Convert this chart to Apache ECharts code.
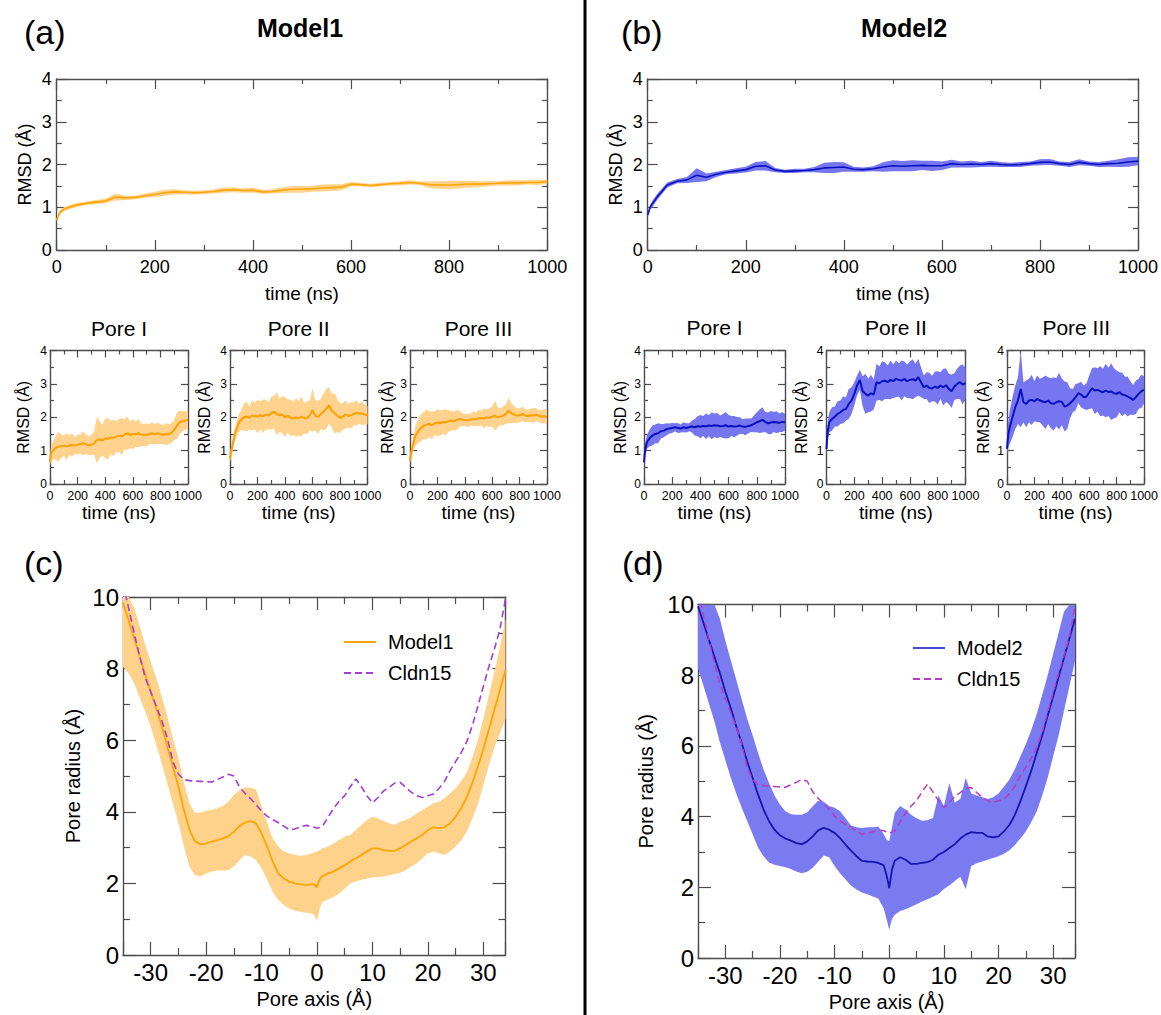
<!DOCTYPE html>
<html><head><meta charset="utf-8">
<script src="https://cdn.jsdelivr.net/npm/echarts@6/dist/echarts.min.js"></script>
<style>html,body{margin:0;padding:0;background:#fff}#c{width:1161px;height:1015px}</style>
</head><body><div id="c"></div>
<script>
// ---------------- DATA ----------------
const T = [0,5,10,20,40,60,80,100,120,140,160,180,200,220,240,260,280,300,320,340,360,380,400,420,440,460,480,500,520,540,560,580,600,620,640,660,680,700,720,740,760,780,800,820,840,860,880,900,920,940,960,980,1000];

// Model1 whole protein RMSD
const m1Mean = [0.70,0.85,0.92,0.98,1.05,1.09,1.12,1.15,1.24,1.22,1.23,1.27,1.30,1.34,1.36,1.35,1.34,1.35,1.37,1.40,1.41,1.39,1.40,1.36,1.37,1.40,1.42,1.42,1.43,1.45,1.46,1.47,1.54,1.53,1.51,1.53,1.55,1.56,1.58,1.56,1.53,1.52,1.52,1.53,1.54,1.54,1.55,1.56,1.57,1.57,1.58,1.58,1.60];
const m1Sd = [0.04,0.05,0.05,0.05,0.05,0.04,0.05,0.05,0.08,0.05,0.04,0.05,0.06,0.07,0.06,0.05,0.05,0.04,0.05,0.06,0.06,0.05,0.06,0.05,0.05,0.07,0.08,0.08,0.07,0.08,0.08,0.07,0.05,0.04,0.04,0.04,0.04,0.05,0.05,0.04,0.08,0.09,0.10,0.09,0.08,0.07,0.06,0.05,0.06,0.06,0.05,0.06,0.05];
// Model2 whole protein RMSD
const m2Mean = [0.82,1.0,1.09,1.25,1.52,1.61,1.64,1.75,1.70,1.77,1.82,1.85,1.88,1.96,1.97,1.87,1.84,1.85,1.86,1.88,1.92,1.93,1.94,1.89,1.88,1.90,1.94,1.97,1.96,1.97,1.98,1.97,1.97,2.02,2.00,2.01,2.00,2.02,2.00,1.99,2.00,2.02,2.05,2.06,2.02,2.00,2.05,2.02,2.00,2.02,2.03,2.06,2.08];
const m2Sd = [0.05,0.06,0.07,0.07,0.06,0.05,0.07,0.16,0.09,0.06,0.05,0.06,0.07,0.1,0.11,0.05,0.04,0.05,0.04,0.06,0.12,0.13,0.11,0.06,0.05,0.06,0.11,0.13,0.12,0.13,0.11,0.12,0.1,0.09,0.07,0.08,0.06,0.07,0.06,0.05,0.06,0.05,0.07,0.07,0.05,0.06,0.07,0.05,0.06,0.07,0.09,0.11,0.1];

// Model1 pores
const m1P1Mean = [0.65,0.85,0.95,1.0,1.08,1.12,1.13,1.15,1.12,1.16,1.17,1.15,1.18,1.2,1.22,1.19,1.15,1.18,1.22,1.32,1.34,1.30,1.37,1.35,1.40,1.38,1.42,1.45,1.43,1.48,1.52,1.47,1.50,1.49,1.52,1.48,1.46,1.47,1.50,1.52,1.48,1.52,1.50,1.47,1.50,1.49,1.53,1.62,1.75,1.85,1.88,1.90,1.93];
const m1P1Sd = [0.1,0.2,0.25,0.25,0.35,0.45,0.35,0.3,0.4,0.3,0.35,0.25,0.3,0.28,0.35,0.3,0.28,0.3,0.35,0.7,0.55,0.45,0.6,0.62,0.5,0.55,0.45,0.5,0.55,0.45,0.5,0.4,0.45,0.38,0.42,0.35,0.32,0.35,0.3,0.33,0.3,0.32,0.3,0.28,0.33,0.3,0.3,0.3,0.4,0.35,0.3,0.28,0.25];
const m1P2Mean = [0.75,0.9,1.0,1.2,1.55,1.8,1.92,2.0,2.02,1.98,2.05,2.04,2.02,2.06,2.03,2.08,2.05,2.12,2.16,2.1,2.06,2.08,2.0,2.04,1.98,1.96,2.0,1.97,2.02,1.97,1.98,2.05,2.22,2.05,2.0,2.1,2.16,2.25,2.36,2.2,2.12,2.05,1.98,2.02,2.08,2.04,2.06,2.1,2.14,2.1,2.12,2.08,2.06];
const m1P2Sd = [0.1,0.15,0.15,0.2,0.2,0.25,0.3,0.4,0.45,0.35,0.45,0.4,0.5,0.42,0.5,0.45,0.4,0.5,0.48,0.65,0.5,0.55,0.6,0.5,0.55,0.5,0.58,0.52,0.6,0.45,0.5,0.45,0.65,0.45,0.5,0.45,0.55,0.6,0.55,0.5,0.6,0.5,0.45,0.4,0.42,0.35,0.4,0.35,0.38,0.3,0.35,0.3,0.28];
const m1P3Mean = [0.7,0.85,0.95,1.15,1.45,1.58,1.68,1.75,1.78,1.8,1.76,1.82,1.84,1.82,1.86,1.85,1.88,1.9,1.88,1.92,1.95,1.93,1.92,1.9,1.93,1.95,1.94,1.97,1.98,1.96,2.0,1.98,2.02,2.05,2.0,2.02,2.05,2.1,2.2,2.12,2.08,2.05,2.06,2.1,2.05,2.04,2.06,2.05,2.08,2.04,2.02,2.03,2.01];
const m1P3Sd = [0.08,0.12,0.15,0.2,0.3,0.35,0.4,0.4,0.45,0.38,0.42,0.35,0.4,0.38,0.35,0.4,0.32,0.3,0.28,0.3,0.25,0.2,0.18,0.2,0.18,0.22,0.2,0.25,0.22,0.3,0.25,0.28,0.3,0.45,0.3,0.25,0.28,0.3,0.38,0.3,0.25,0.22,0.2,0.22,0.2,0.18,0.2,0.22,0.2,0.18,0.2,0.22,0.2];

// Model2 pores
const m2P1Mean = [0.65,0.9,1.05,1.25,1.38,1.45,1.5,1.52,1.58,1.6,1.64,1.66,1.68,1.7,1.68,1.66,1.7,1.68,1.7,1.72,1.7,1.73,1.72,1.74,1.73,1.75,1.74,1.76,1.75,1.73,1.74,1.76,1.72,1.74,1.72,1.73,1.75,1.72,1.71,1.74,1.76,1.8,1.85,1.88,1.92,1.86,1.82,1.84,1.86,1.85,1.83,1.86,1.85];
const m2P1Sd = [0.1,0.15,0.2,0.2,0.25,0.3,0.28,0.3,0.22,0.2,0.18,0.15,0.15,0.12,0.15,0.12,0.15,0.14,0.12,0.18,0.25,0.3,0.35,0.3,0.38,0.32,0.4,0.35,0.38,0.32,0.36,0.4,0.35,0.3,0.32,0.28,0.25,0.22,0.25,0.22,0.2,0.25,0.3,0.35,0.38,0.3,0.32,0.35,0.3,0.33,0.28,0.3,0.25];
const m2P2Mean = [1.05,1.4,1.6,1.85,1.95,2.02,2.1,2.15,2.22,2.25,2.4,2.5,2.7,2.95,3.12,2.78,2.7,2.65,2.72,2.68,3.05,3.02,3.08,3.1,3.05,3.12,3.08,3.15,3.12,3.1,3.15,3.08,3.12,3.14,3.1,3.2,3.05,2.9,2.95,2.88,2.86,2.92,2.88,2.95,2.9,2.96,2.85,2.78,2.92,3.0,3.05,2.98,3.02];
const m2P2Sd = [0.15,0.25,0.3,0.3,0.35,0.3,0.38,0.35,0.4,0.35,0.45,0.4,0.35,0.3,0.3,0.45,0.6,0.5,0.55,0.45,0.55,0.5,0.6,0.55,0.5,0.58,0.5,0.55,0.5,0.6,0.52,0.5,0.55,0.6,0.5,0.55,0.45,0.35,0.4,0.45,0.38,0.45,0.5,0.4,0.55,0.5,0.45,0.5,0.4,0.45,0.5,0.6,0.45];
const m2P3Mean = [1.05,1.3,1.5,1.7,2.0,2.3,2.5,2.85,2.45,2.4,2.5,2.52,2.48,2.55,2.5,2.47,2.45,2.5,2.42,2.4,2.45,2.48,2.46,2.32,2.35,2.42,2.5,2.6,2.72,2.68,2.6,2.62,2.75,2.87,2.8,2.82,2.78,2.75,2.8,2.76,2.77,2.72,2.7,2.75,2.68,2.66,2.62,2.58,2.52,2.6,2.7,2.78,2.82];
const m2P3Sd = [0.15,0.3,0.4,0.5,0.6,0.65,0.7,1.15,0.6,0.7,0.65,0.75,0.6,0.7,0.65,0.72,0.8,0.7,0.75,0.8,0.72,0.85,0.7,0.75,0.7,0.45,0.35,0.4,0.3,0.38,0.35,0.4,0.5,0.6,0.7,0.65,0.75,0.7,0.8,0.72,0.85,0.75,0.7,0.6,0.65,0.55,0.6,0.5,0.45,0.5,0.45,0.5,0.4];

// Pore radius profiles
const PX = [-35,-34,-33,-32,-31,-30,-29,-28,-27,-26,-25,-24,-23,-22,-21,-20,-19,-18,-17,-16,-15,-14,-13,-12,-11,-10,-9,-8,-7,-6,-5,-4,-3,-2,-1,-0.5,0,0.5,1,2,3,4,5,6,7,8,9,10,11,12,13,14,15,16,17,18,19,20,21,22,23,24,25,26,27,28,29,30,31,32,33,34];
const m1Radius = [9.85,9.35,8.85,8.35,7.85,7.36,6.89,6.38,5.82,5.26,4.7,4.05,3.49,3.17,3.09,3.12,3.17,3.21,3.26,3.32,3.44,3.6,3.7,3.74,3.68,3.4,3.03,2.61,2.28,2.14,2.05,2.0,1.97,1.96,1.97,1.97,1.9,2.12,2.21,2.28,2.33,2.42,2.51,2.61,2.7,2.79,2.89,2.98,2.98,2.93,2.91,2.91,2.98,3.07,3.17,3.26,3.35,3.49,3.57,3.54,3.57,3.68,3.86,4.1,4.4,4.8,5.25,5.75,6.3,6.85,7.4,7.95];
const m1RadiusLo = [8.05,7.87,7.6,7.2,6.8,6.38,5.87,5.35,4.8,4.24,3.68,3.03,2.47,2.23,2.2,2.28,2.33,2.36,2.36,2.37,2.47,2.65,2.79,2.75,2.65,2.42,2.1,1.77,1.54,1.4,1.3,1.24,1.21,1.18,1.16,1.12,0.95,1.3,1.49,1.55,1.63,1.72,1.86,2.0,2.05,2.1,2.13,2.17,2.17,2.19,2.23,2.26,2.3,2.37,2.47,2.56,2.7,2.84,2.89,2.84,2.79,2.89,3.03,3.2,3.45,3.8,4.2,4.75,5.3,5.8,6.2,6.6];
const m1RadiusHi = [11,10.5,9.7,9.2,8.66,8.2,7.73,7.22,6.66,6.05,5.5,4.8,4.24,3.96,3.98,4.03,4.05,4.1,4.16,4.28,4.47,4.6,4.68,4.68,4.62,4.14,3.68,3.26,3.03,2.89,2.84,2.79,2.77,2.79,2.84,2.87,2.89,2.93,2.98,3.03,3.12,3.21,3.31,3.35,3.49,3.63,3.77,3.86,3.82,3.75,3.68,3.63,3.72,3.77,3.85,3.96,4.05,4.14,4.24,4.28,4.38,4.52,4.66,4.85,5.1,5.5,6.0,6.6,7.25,7.9,8.6,9.4];
const m2Radius = [9.95,9.48,9.0,8.53,8.06,7.54,7.07,6.55,6.08,5.56,5.09,4.62,4.2,3.87,3.63,3.47,3.38,3.32,3.25,3.22,3.3,3.44,3.61,3.68,3.63,3.54,3.39,3.21,3.04,2.88,2.75,2.73,2.72,2.69,2.62,2.35,1.98,2.5,2.75,2.85,2.78,2.66,2.66,2.69,2.71,2.78,2.92,3.0,3.11,3.22,3.38,3.49,3.56,3.54,3.54,3.44,3.41,3.44,3.58,3.77,4.05,4.43,4.86,5.3,5.8,6.3,6.85,7.4,7.95,8.5,9.05,9.6];
const m2RadiusLo = [8.2,7.7,7.2,6.7,6.1,5.6,5.1,4.65,4.25,3.88,3.5,3.12,2.88,2.7,2.64,2.6,2.57,2.52,2.45,2.4,2.44,2.55,2.72,2.9,2.85,2.6,2.4,2.22,2.05,1.94,1.85,1.8,1.74,1.68,1.4,1.1,0.8,1.1,1.22,1.33,1.38,1.45,1.52,1.6,1.66,1.73,1.8,1.95,2.05,2.18,2.3,1.95,2.6,2.68,2.73,2.78,2.83,2.88,2.95,3.05,3.2,3.38,3.58,3.85,4.15,4.6,5.1,5.7,6.3,7.0,7.7,8.4];
const m2RadiusHi = [11.8,11.2,10.6,10.05,9.6,8.98,8.42,7.87,7.32,6.77,6.3,5.8,5.33,4.95,4.6,4.34,4.15,4.07,4.05,4.05,4.12,4.29,4.45,4.42,4.3,4.25,4.15,3.95,3.75,3.7,3.68,3.7,3.7,3.72,3.5,3.35,3.3,3.7,4.1,4.3,4.2,4.05,3.95,3.88,3.9,3.96,4.6,4.3,4.95,4.4,4.5,5.1,4.65,4.6,4.55,4.5,4.55,4.65,4.85,5.05,5.35,5.7,6.05,6.45,6.9,7.45,8.0,8.6,9.2,9.8,10.4,11.0];
const cldn15Radius = [10.4,9.7,9.0,8.35,7.75,7.35,6.95,6.55,6.05,5.4,5.05,4.9,4.87,4.86,4.85,4.84,4.83,4.9,4.97,5.05,5.0,4.7,4.52,4.37,4.2,4.02,3.88,3.78,3.7,3.6,3.5,3.52,3.58,3.62,3.6,3.57,3.54,3.56,3.6,3.85,4.1,4.3,4.45,4.7,4.92,4.7,4.45,4.25,4.4,4.58,4.68,4.8,4.82,4.68,4.55,4.45,4.4,4.45,4.5,4.65,4.85,5.15,5.4,5.65,5.95,6.4,6.94,7.5,8.05,8.55,9.1,9.95];

const poreTitles = ['Pore I', 'Pore II', 'Pore III'];

// ---------------- BUILD ----------------
const FONT = '"Liberation Sans", Arial, Helvetica, sans-serif';
const AX = '#4d4d4d';
const grids = [], xAxes = [], yAxes = [], series = [];

function clone(o){ return JSON.parse(JSON.stringify(o)); }
function plain(v){ return String(v); }

function makeAxes(gi, c, isX) {
  const common = {
    gridIndex: gi, type: 'value', min: c.min, max: c.max,
    axisLine: {show: true, onZero: false, lineStyle: {color: AX, width: 1.4}},
    axisTick: {show: true, inside: true, length: c.tick, lineStyle: {color: AX, width: 1.2}},
    minorTick: {show: true, splitNumber: 2, length: c.minor, lineStyle: {color: AX, width: 1.2}},
    splitLine: {show: false}, minorSplitLine: {show: false}
  };
  if (c.interval) common.interval = c.interval; else common.splitNumber = c.splitNumber;
  const p = clone(common);
  p.position = isX ? 'bottom' : 'left';
  p.axisLabel = {show: true, fontSize: c.label, fontFamily: FONT, color: '#000', margin: c.margin, formatter: plain,
                 showMinLabel: c.showEnds !== false, showMaxLabel: c.showEnds !== false};
  p.name = c.name; p.nameLocation = 'middle'; p.nameGap = c.gap;
  p.nameTextStyle = {fontSize: c.nameSize, fontFamily: FONT, color: '#000'};
  const s = clone(common);
  s.position = isX ? 'top' : 'right';
  s.axisLabel = {show: false};
  return [p, s];
}

function addGrid(rect, xc, yc) {
  const gi = grids.length;
  grids.push({left: rect[0], top: rect[1], width: rect[2], height: rect[3]});
  xAxes.push(...makeAxes(gi, xc, true));
  yAxes.push(...makeAxes(gi, yc, false));
  return gi;
}

function bandSeries(gi, xs, lo, hi, color) {
  const data = xs.map((x, k) => [x, lo[k], hi[k]]);
  return {
    type: 'custom', xAxisIndex: 2*gi, yAxisIndex: 2*gi, data: data, clip: true, silent: true, z: 1,
    encode: {x: 0, y: [1, 2]},
    renderItem: function (params, api) {
      if (params.dataIndex !== 0) return null;
      const cs = params.coordSys;
      const cl = p => [Math.min(Math.max(p[0], cs.x), cs.x + cs.width), Math.min(Math.max(p[1], cs.y), cs.y + cs.height)];
      const top = data.map(d => cl(api.coord([d[0], d[2]])));
      const bot = data.map(d => cl(api.coord([d[0], d[1]]))).reverse();
      return {type: 'polygon', shape: {points: top.concat(bot)}, style: {fill: color, stroke: null}};
    }
  };
}

function lineSeries(gi, xs, ys, color, width, name, dash) {
  const s = {type: 'line', xAxisIndex: 2*gi, yAxisIndex: 2*gi, data: xs.map((x, k) => [x, ys[k]]),
    symbol: 'none', showSymbol: false, silent: true, z: 3, itemStyle: {color: color}, lineStyle: {color: color, width: width}};
  if (name) s.name = name;
  if (dash) { s.lineStyle.type = dash; s.z = 4; }
  return s;
}

function rmsd(gi, mean, sd, band, line, lw) {
  const lo = mean.map((m, k) => +(m - sd[k]).toFixed(3));
  const hi = mean.map((m, k) => +(m + sd[k]).toFixed(3));
  series.push(bandSeries(gi, T, lo, hi, band));
  series.push(lineSeries(gi, T, mean, line, lw));
}

const mainX = {min: 0, max: 1000, interval: 200, tick: 10, minor: 5, label: 18, margin: 8, name: 'time (ns)', nameSize: 19, gap: 34};
const mainY = {min: 0, max: 4, interval: 1, tick: 10, minor: 5, label: 18, margin: 5, name: 'RMSD (Å)', nameSize: 18, gap: 23};
const smallX = {min: 0, max: 1000, interval: 200, tick: 7, minor: 4, label: 12.5, margin: 5, name: 'time (ns)', nameSize: 19, gap: 19};
function smallY(gap){ return {min: 0, max: 4, interval: 1, tick: 7, minor: 4, label: 12, margin: 3, name: 'RMSD (Å)', nameSize: 16, gap: gap}; }
const poreX = {min: -35, max: 34, splitNumber: 7, tick: 13, minor: 7, label: 24, margin: 5, showEnds: false, name: 'Pore axis (Å)', nameSize: 20, gap: 34};
function poreY(gap){ return {min: 0, max: 10, interval: 2, tick: 13, minor: 7, label: 24, margin: 4, name: 'Pore radius (Å)', nameSize: 20, gap: gap}; }

const ORB = '#FFD38E', ORL = '#FFA500';
const BLB = '#7676F0', BLL = '#0A12C0';

let g;
g = addGrid([56.7, 79, 490.5, 171], mainX, mainY); rmsd(g, m1Mean, m1Sd, ORB, ORL, 1.6);
g = addGrid([647.7, 79, 497, 171], mainX, mainY); rmsd(g, m2Mean, m2Sd, BLB, BLL, 1.6);

const smallA = [[50, 350.5, 138, 133.5, 19], [230, 350.5, 137.5, 133.5, 18], [410, 350.5, 137, 133.5, 15]];
const smallB = [[644, 350.5, 141, 133.5, 16], [826.5, 350.5, 139, 133.5, 17], [1007, 350.5, 138.5, 133.5, 16]];
const aSets = [[m1P1Mean, m1P1Sd], [m1P2Mean, m1P2Sd], [m1P3Mean, m1P3Sd]];
const bSets = [[m2P1Mean, m2P1Sd], [m2P2Mean, m2P2Sd], [m2P3Mean, m2P3Sd]];
smallA.forEach((r, i) => { const gi = addGrid(r.slice(0, 4), smallX, smallY(r[4])); rmsd(gi, aSets[i][0], aSets[i][1], ORB, '#FFA000', 2); });
smallB.forEach((r, i) => { const gi = addGrid(r.slice(0, 4), smallX, smallY(r[4])); rmsd(gi, bSets[i][0], bSets[i][1], BLB, BLL, 2); });

g = addGrid([123, 597, 382.5, 358], poreX, poreY(40));
series.push(bandSeries(g, PX, m1RadiusLo, m1RadiusHi, '#FED28B'));
series.push(lineSeries(g, PX, m1Radius, '#FFA500', 1.8, 'Model1'));
series.push(lineSeries(g, PX, cldn15Radius, '#A63DD6', 1.6, 'Cldn15', [7, 4]));

g = addGrid([698, 604.5, 377, 353.5], poreX, poreY(42));
series.push(bandSeries(g, PX, m2RadiusLo, m2RadiusHi, '#7B7BF1'));
series.push(lineSeries(g, PX, m2Radius, '#1616A8', 1.8, 'Model2'));
series.push(lineSeries(g, PX, cldn15Radius, '#B53AC5', 1.5, 'Cldn15', [7, 4]));

// text / decorations
const graphic = [
  {type: 'line', shape: {x1: 585, y1: 0, x2: 585, y2: 1015}, style: {stroke: '#000', lineWidth: 3}},
];
function txt(s, x, y, size, weight, align) {
  graphic.push({type: 'text', x: x, y: y, style: {text: s, fontSize: size, fontFamily: FONT, fontWeight: weight || 'normal', fill: '#000', align: align || 'center', verticalAlign: 'middle'}});
}
txt('(a)', 24, 32, 34, 'normal', 'left');
txt('Model1', 300, 28, 25, 'bold');
txt('(b)', 621, 32, 34, 'normal', 'left');
txt('Model2', 904, 28, 25, 'bold');
txt('(c)', 24, 563, 34, 'normal', 'left');
txt('(d)', 622, 563, 34, 'normal', 'left');
smallA.forEach((r, i) => txt(poreTitles[i], r[0] + r[2] / 2, 328, 21));
smallB.forEach((r, i) => txt(poreTitles[i], r[0] + r[2] / 2, 327, 21));

const legendText = {fontSize: 20, fontFamily: FONT, color: '#000', padding: [0, 0, 0, 7]};
const legendCommon = {orient: 'vertical', itemWidth: 32, itemHeight: 14, itemGap: 11, selectedMode: false,
  textStyle: legendText, itemStyle: {opacity: 0, borderWidth: 0}};
const option = {
  animation: false,
  backgroundColor: '#fff',
  grid: grids, xAxis: xAxes, yAxis: yAxes, series: series, graphic: graphic,
  legend: [
    Object.assign({data: [{name: 'Model1'}, {name: 'Cldn15'}], left: 338, top: 627}, clone(legendCommon)),
    Object.assign({data: [{name: 'Model2', lineStyle: {color: '#4848E6'}}, {name: 'Cldn15', lineStyle: {color: '#B53AC5'}}], left: 907, top: 633}, clone(legendCommon))
  ]
};
const chart = echarts.init(document.getElementById('c'), null, {renderer: 'svg'});
chart.setOption(option);
</script>
</body></html>
